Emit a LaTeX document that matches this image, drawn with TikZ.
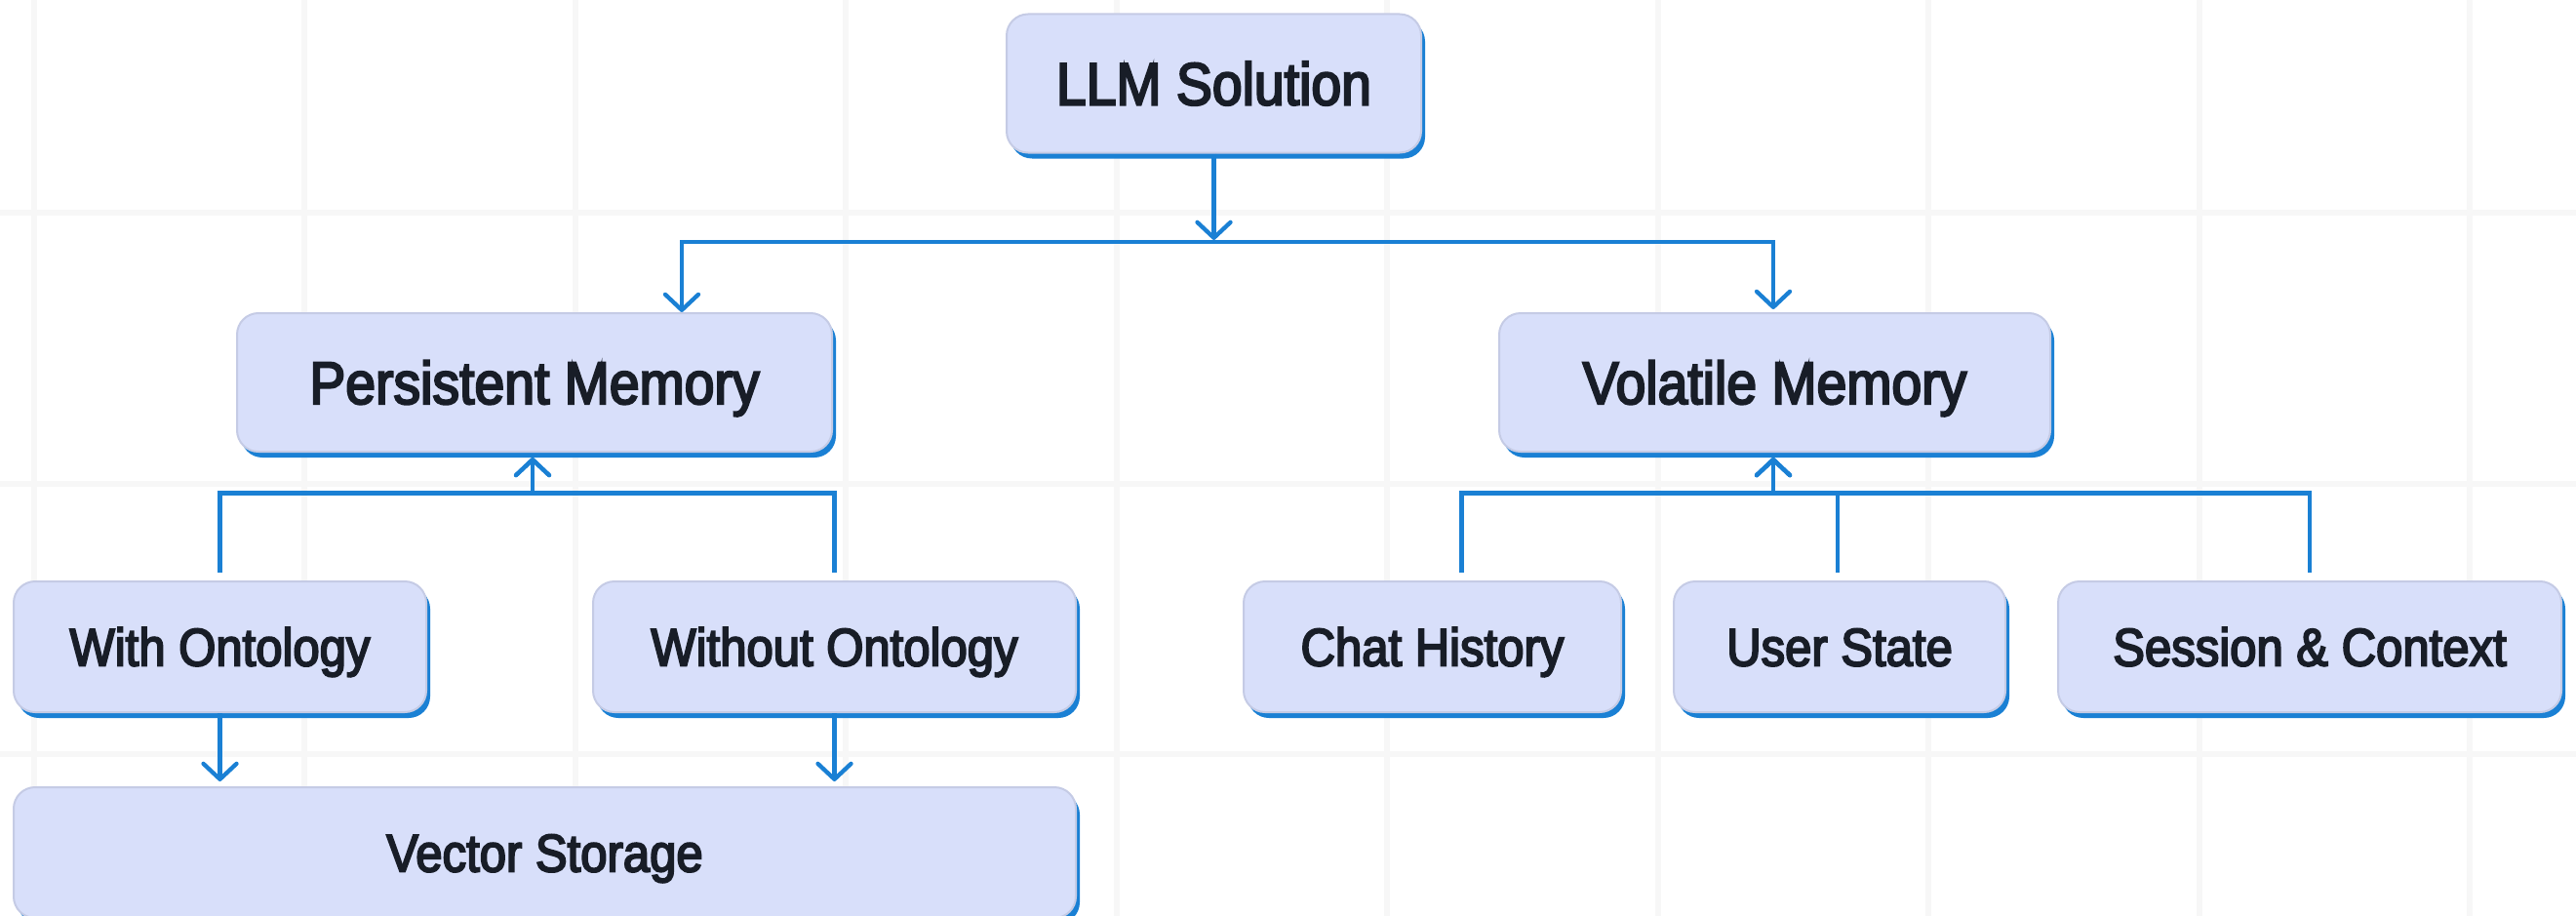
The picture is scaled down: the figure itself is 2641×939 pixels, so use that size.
\documentclass[tikz,border=0pt]{standalone}
\usepackage{fontspec}
\usetikzlibrary{arrows.meta,shadows}
\newfontfamily\labelfont[FakeStretch=0.9, FakeBold=3.5]{Liberation Sans}

\definecolor{gridgray}{HTML}{F7F7F7}
\definecolor{boxfill}{HTML}{D8DFFA}
\definecolor{boxline}{HTML}{C5CBE5}
\definecolor{linkblue}{HTML}{1A80D4}
\definecolor{inkdark}{HTML}{181D27}

\tikzset{
  card/.style={
    rectangle, rounded corners=22pt, draw=boxline, line width=2pt,
    fill=boxfill, text=inkdark, inner sep=0pt, anchor=center,
    drop shadow={shadow xshift=4pt, shadow yshift=-6pt, fill=linkblue, opacity=1},
  },
  bigcard/.style={card, font=\labelfont\fontsize{61.5}{70}\selectfont,
    text height=44pt, text depth=0pt, minimum height=142pt},
  smallcard/.style={card, font=\labelfont\fontsize{54.5}{62}\selectfont,
    text height=39pt, text depth=0pt, minimum height=134pt},
  flow/.style={draw=linkblue, line width=4.3pt, line join=miter,
    -{Straight Barb[length=16pt, width=34pt, line cap=round, line join=round]}},
  gridline/.style={draw=gridgray, line width=6pt},
}

\begin{document}
\begin{tikzpicture}[x=1pt, y=-1pt]
  \useasboundingbox (0,0) rectangle (2641,939);
  \clip (0,0) rectangle (2641,939);

  % background grid
  \foreach \gx in {34.5,312,589.5,867,1144.5,1422,1699.5,1977,2254.5,2532}
    \draw[gridline] (\gx,0) -- (\gx,939);
  \foreach \gy in {218,495.5,773}
    \draw[gridline] (0,\gy) -- (2641,\gy);

  % nodes
  \node[bigcard, minimum width=425pt] (llm) at (1244.5,85.5) {LLM Solution};
  \node[bigcard, minimum width=610pt] (pm) at (548,392) {Persistent Memory};
  \node[bigcard, minimum width=565pt] (vm) at (1819.5,392) {Volatile Memory};

  \node[smallcard, minimum width=423pt] (wo) at (225.5,663) {With Ontology};
  \node[smallcard, minimum width=495pt] (wt) at (855.5,663) {Without Ontology};
  \node[smallcard, minimum width=387pt] (ch) at (1468.5,663) {Chat History};
  \node[smallcard, minimum width=340pt] (us) at (1886,663) {User State};
  \node[smallcard, minimum width=516pt] (sc) at (2368,663) {Session \& Context};

  \node[smallcard, minimum width=1089pt] (vs) at (558.5,874) {Vector Storage};

  % junction points of the orthogonal connectors
  \coordinate (topbus) at (0,248);
  \coordinate (lowbus) at (0,505.5);
  \coordinate (j0) at (llm.south |- topbus);
  \coordinate (j1) at ([xshift=-2pt]pm.south |- lowbus);
  \coordinate (j2) at ([xshift=-1.5pt]vm.south |- lowbus);

  % root to the two memory kinds
  \draw[flow, shorten >=2pt] (llm.south) -- (j0);
  \draw[flow] (j0) -| ([xshift=151pt]pm.north);
  \draw[flow, shorten >=3pt] (j0) -| ([xshift=-1.5pt]vm.north);

  % persistent memory variants
  \draw[flow] ([yshift=8pt]wo.north) |- (j1) -- ([xshift=-2pt,yshift=-5pt]pm.south);
  \draw[flow] ([yshift=8pt]wt.north) |- (j1) -- ([xshift=-2pt,yshift=-5pt]pm.south);

  % volatile memory parts
  \draw[flow] ([xshift=30pt,yshift=8pt]ch.north) |- (j2) -- ([xshift=-1.5pt,yshift=-5pt]vm.south);
  \draw[flow] ([xshift=-2pt,yshift=8pt]us.north) |- (j2) -- ([xshift=-1.5pt,yshift=-5pt]vm.south);
  \draw[flow] ([yshift=8pt]sc.north) |- (j2) -- ([xshift=-1.5pt,yshift=-5pt]vm.south);

  % both variants store into vectors
  \draw[flow, shorten >=5pt] (wo.south) -- (wo.south |- vs.north);
  \draw[flow, shorten >=5pt] (wt.south) -- (wt.south |- vs.north);
\end{tikzpicture}
\end{document}
